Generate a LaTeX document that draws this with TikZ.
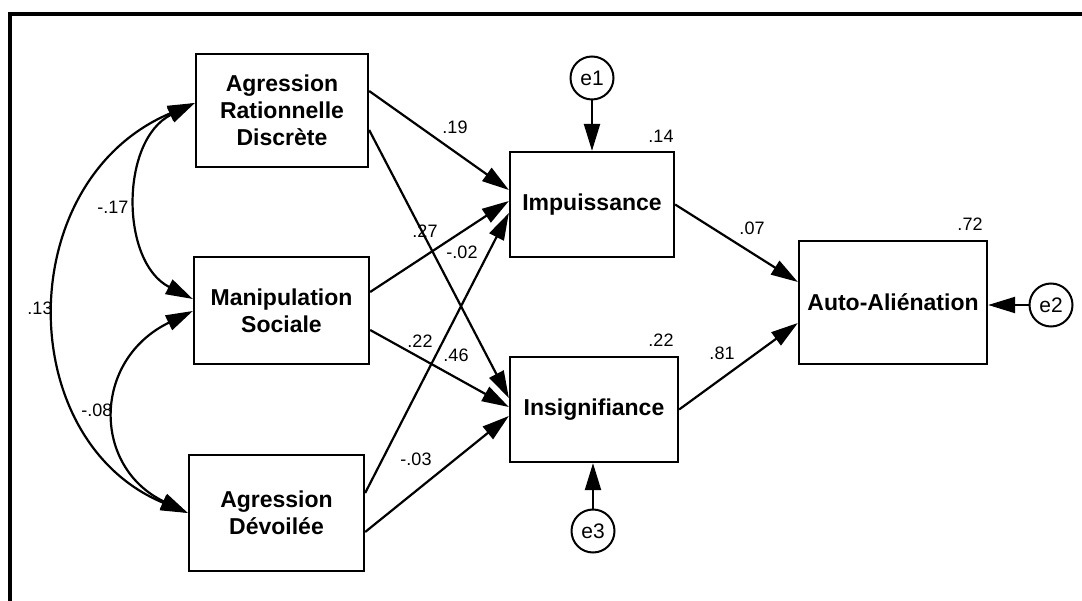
\documentclass[tikz,border=0pt]{standalone}
\usepackage{fontspec}
\setmainfont{Liberation Sans}
\usetikzlibrary{arrows.meta,calc}
\begin{document}
\begin{tikzpicture}[x=1pt,y=-1pt,
  box/.style={draw,line width=2.3pt,inner sep=0pt,align=center,font=\bfseries\fontsize{23}{27}\selectfont},
  err/.style={draw,circle,line width=2pt,minimum size=43pt,inner sep=0pt,font=\fontsize{21}{23}\selectfont},
  lbl/.style={inner sep=0pt,font=\fontsize{18}{20}\selectfont},
  path/.style={line width=2.2pt,-{Triangle[length=27pt,width=16pt]}},
  cov/.style={line width=2.2pt,{Triangle[length=27pt,width=16pt]}-{Triangle[length=27pt,width=16pt]}}
]
\useasboundingbox (0,0) rectangle (1082,601);
\fill[white] (0,0) rectangle (1082,601);
\draw[line width=4pt] (9.5,601) -- (9.5,13.7) -- (1082,13.7);

\node[box,minimum width=172pt,minimum height=113pt] (ard) at (282,110.5) {Agression\\Rationnelle\\Discrète};
\node[box,minimum width=175pt,minimum height=107pt] (ms) at (281.5,310.5) {Manipulation\\Sociale};
\node[box,minimum width=175pt,minimum height=116pt] (ad) at (276.5,513) {Agression\\Dévoilée};
\node[box,minimum width=164pt,minimum height=105pt] (imp) at (592,204.5) {Impuissance};
\node[box,minimum width=168pt,minimum height=105pt] (ins) at (594,409.5) {Insignifiance};
\node[box,minimum width=188pt,minimum height=123pt] (auto) at (893,302.5) {Auto-Aliénation};

\node[err] (e1) at (592,78) {e1};
\node[err] (e3) at (593,531) {e3};
\node[err] (e2) at (1051,305) {e2};

\draw[path] ([yshift=19.5pt]ard.east) -- ([yshift=14.5pt]imp.west);
\draw[path] ([yshift=-19.5pt]ard.east) -- ([yshift=11.5pt]ins.west);
\draw[path] ([yshift=18.5pt]ms.east) -- ([yshift=3.5pt]imp.west);
\draw[path] ([yshift=-19.5pt]ms.east) -- ([yshift=2.5pt]ins.west);
\draw[path] ([yshift=20pt]ad.east) -- ([yshift=-8.5pt]imp.west);
\draw[path] ([yshift=-19pt]ad.east) -- ([yshift=-6.5pt]ins.west);
\draw[path] (imp.east) -- ([yshift=20.5pt]auto.west);
\draw[path] (ins.east) -- ([yshift=-20.5pt]auto.west);
\draw[path] (e2.west) -- ([yshift=-2.5pt]auto.east);
\draw[path] (e1.south) -- (imp.north);
\draw[path] (e3.north) -- ([xshift=-1pt]ins.south);

\draw[cov] ([yshift=7.5pt]ard.west) .. controls (120,140) and (120,262) .. ([yshift=11.5pt]ms.west);
\draw[cov] ([yshift=7.5pt]ard.west) .. controls (12,180) and (12,440) .. (ad.west);
\draw[cov] ([yshift=-0.5pt]ms.west) .. controls (92,360) and (92,467) .. (ad.west);

\node[lbl] (l1) at (455,127) {.19};
\node[lbl] (l2) at (425,231) {.27};
\node[lbl] (l3) at (462,252) {-.02};
\node[lbl] (l4) at (420,341) {.22};
\node[lbl] (l5) at (456,355) {.46};
\node[lbl] (l6) at (416,459) {-.03};
\node[lbl] (l7) at (752,228) {.07};
\node[lbl] (l8) at (722,353) {.81};
\node[lbl] (l9) at (970,224) {.72};
\node[lbl] (l10) at (661,340) {.22};
\node[lbl] (l11) at (661,136) {.14};
\node[lbl] (l12) at (113,207) {-.17};
\node[lbl] (l13) at (40,308) {.13};
\node[lbl] (l14) at (97,410) {-.08};
\end{tikzpicture}
\end{document}
